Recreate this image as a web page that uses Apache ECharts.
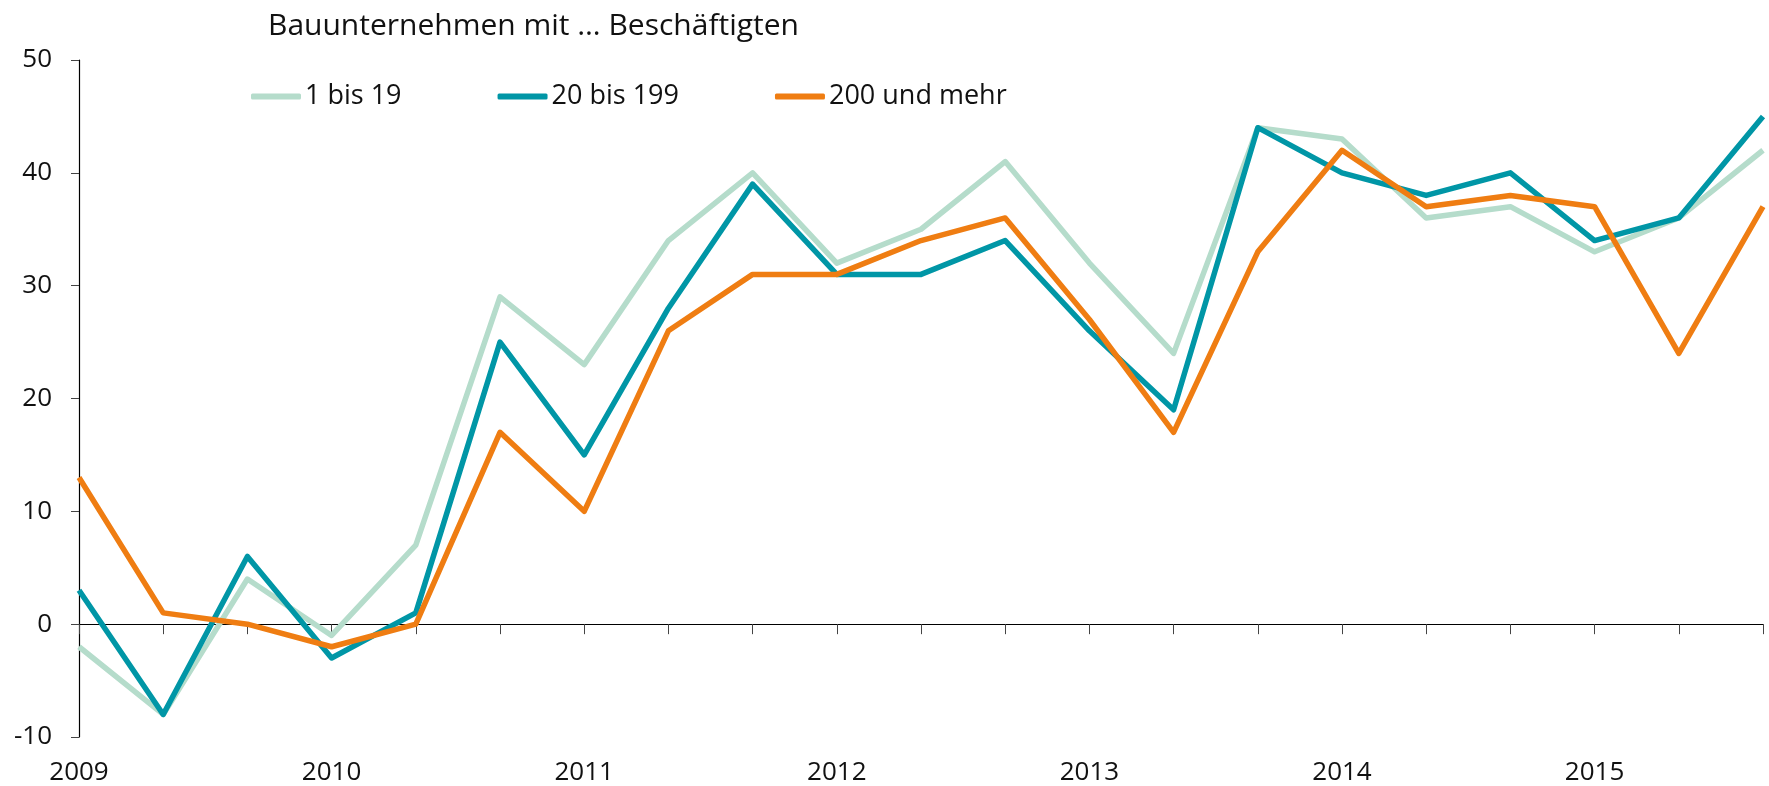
<!DOCTYPE html>
<html><head><meta charset="utf-8">
<script src="https://cdn.jsdelivr.net/npm/echarts@6/dist/echarts.min.js"></script>
<style>html,body{margin:0;padding:0;background:#fff}#c{width:1769px;height:786px}</style>
</head><body><div id="c"></div>
<script>
const title = 'Bauunternehmen mit … Beschäftigten';
const categories = ['2009','2009-2','2009-3','2010','2010-2','2010-3','2011','2011-2','2011-3','2012','2012-2','2012-3','2013','2013-2','2013-3','2014','2014-2','2014-3','2015','2015-2','2015-3'];
const small = [-2,-8,4,-1,7,29,23,34,40,32,35,41,32,24,44,43,36,37,33,36,42];
const medium = [3,-8,6,-3,1,25,15,28,39,31,31,34,26,19,44,40,38,40,34,36,45];
const large = [13,1,0,-2,0,17,10,26,31,31,34,36,27,17,33,42,37,38,37,24,37];
const names = ['1 bis 19','20 bis 199','200 und mehr'];
const colors = ['#b5dccb','#0096a6','#ef7d12'];
const F = '"Open Sans", sans-serif';
const chart = echarts.init(document.getElementById('c'));
const mk = (name, data, color, z) => ({name, type:'line', data, xAxisIndex:0, symbol:'none', z,
  lineStyle:{color, width:5.5, join:'round'}, itemStyle:{color}});
chart.setOption({
  animation:false,
  title:{text:title, left:263, top:6, textStyle:{fontFamily:F, fontSize:30, fontWeight:'normal', color:'#111'}},
  legend:{left:246, top:78, itemWidth:50, itemHeight:6, itemGap:96, icon:'roundRect',
    textStyle:{fontFamily:F, fontSize:27, color:'#111', padding:[0,0,0,-1]}, data:names},
  grid:{left:79, right:6, top:60, bottom:47},
  xAxis:[{type:'category', data:categories, boundaryGap:false,
      axisLine:{onZero:true, lineStyle:{color:'#000', width:1.2}},
      axisTick:{show:true, length:10, inside:false, lineStyle:{color:'#444'}},
      axisLabel:{show:false}},
    {type:'category', data:categories, boundaryGap:false, position:'bottom',
      axisLine:{show:false}, axisTick:{show:false},
      axisLabel:{interval:2, margin:23, fontFamily:F, fontSize:26, color:'#111',
        formatter:v=>v.split('-')[0]}}],
  yAxis:{type:'value', min:-10, max:50, interval:10,
    axisLine:{show:true, lineStyle:{color:'#000', width:1.2}},
    axisTick:{show:true, length:8, lineStyle:{color:'#444'}},
    splitLine:{show:false},
    axisLabel:{margin:27, fontFamily:F, fontSize:26, color:'#111'}},
  series:[mk(names[0], small, colors[0], 2), mk(names[1], medium, colors[1], 3), mk(names[2], large, colors[2], 4)]
});
</script></body></html>
